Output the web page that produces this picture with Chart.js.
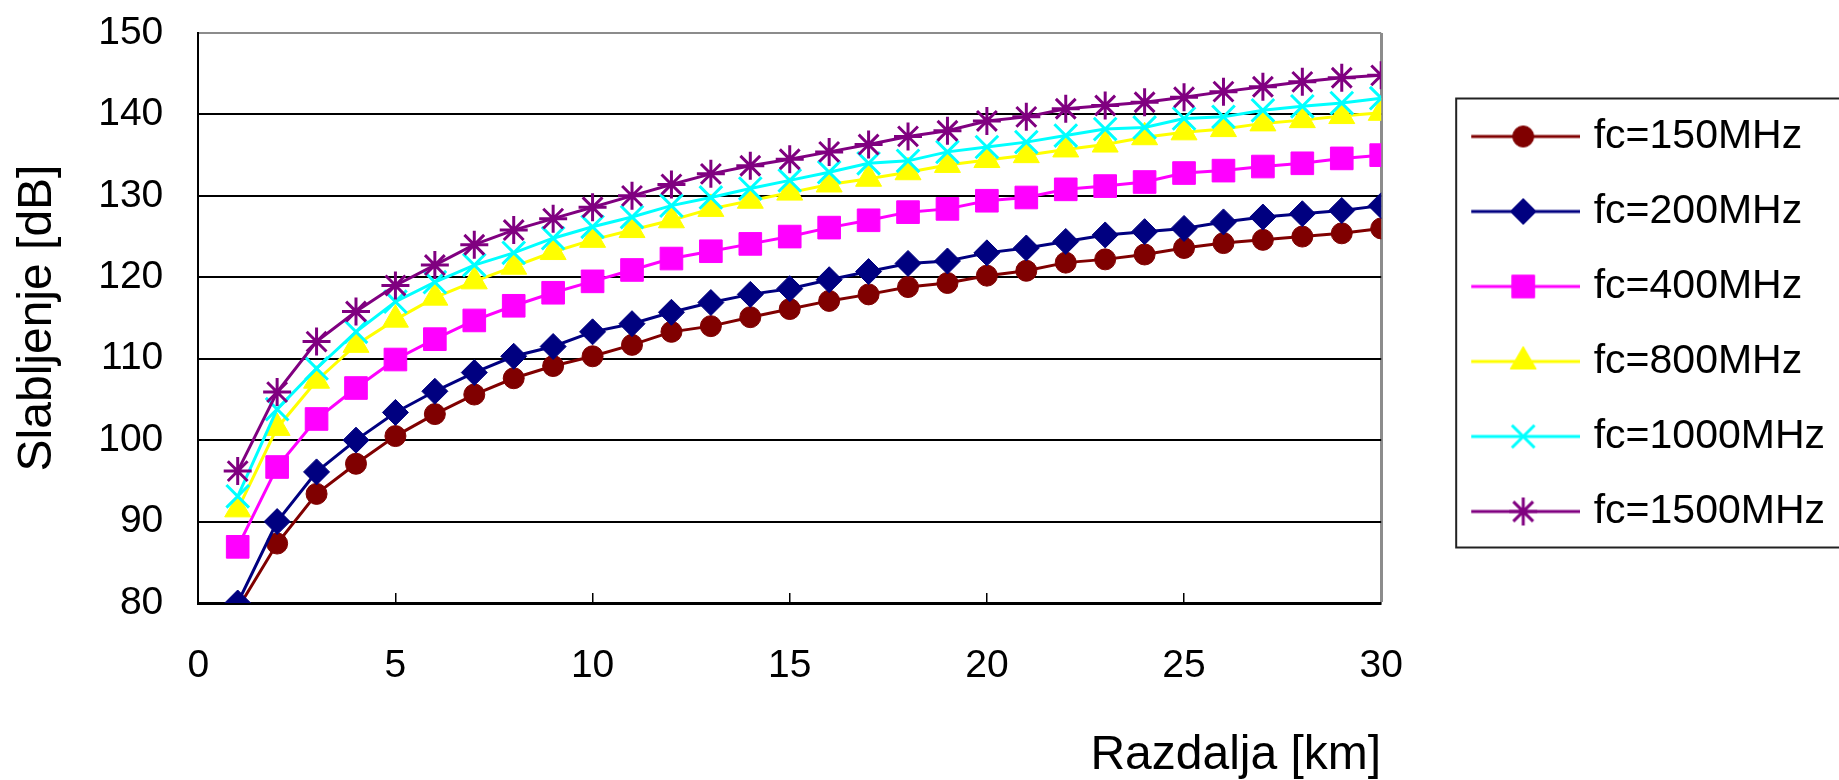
<!DOCTYPE html>
<html lang="sl">
<head>
  <meta charset="UTF-8" />
  <title>Slabljenje v odvisnosti od razdalje</title>
  <script src="https://cdn.jsdelivr.net/npm/chart.js"></script>
  <style>
    html, body {
      margin: 0;
      padding: 0;
      background: #fff;
    }
    canvas {
      display: block;
    }
  </style>
</head>
<body>
  <canvas id="graf" width="1839" height="780"></canvas>

  <script>
    // razdalja [km]
    const razdalja = [1, 2, 3, 4, 5, 6, 7, 8, 9, 10, 11, 12, 13, 14, 15,
                      16, 17, 18, 19, 20, 21, 22, 23, 24, 25, 26, 27, 28, 29, 30];
    const oznake = ["fc=150MHz", "fc=200MHz", "fc=400MHz", "fc=800MHz", "fc=1000MHz", "fc=1500MHz"];
    const xTicks = [0, 5, 10, 15, 20, 25, 30];
    const yTicks = [80, 90, 100, 110, 120, 130, 140, 150];

    // slabljenje [dB], odčitano s slike
    const fc150 = [79.3, 87.3, 93.4, 97.1, 100.5, 103.2, 105.6, 107.6, 109.1, 110.3,
                   111.7, 113.3, 114.0, 115.1, 116.1, 117.1, 117.9, 118.8, 119.3, 120.2,
                   120.8, 121.8, 122.2, 122.8, 123.6, 124.2, 124.6, 125.0, 125.4, 126.0];
    const fc200 = [80.0, 90.0, 96.1, 100.0, 103.4, 106.0, 108.3, 110.3, 111.5, 113.3,
                   114.3, 115.7, 116.9, 117.9, 118.6, 119.7, 120.7, 121.7, 122.0, 123.0,
                   123.6, 124.4, 125.2, 125.6, 126.0, 126.8, 127.4, 127.8, 128.2, 128.8];
    const fc400 = [86.9, 96.7, 102.6, 106.4, 109.9, 112.4, 114.7, 116.5, 118.1, 119.5,
                   120.9, 122.3, 123.2, 124.1, 125.0, 126.1, 127.0, 128.0, 128.4, 129.4,
                   129.8, 130.8, 131.2, 131.7, 132.8, 133.1, 133.6, 134.0, 134.6, 135.0];
    const fc800 = [91.5, 101.5, 107.3, 111.7, 114.8, 117.5, 119.5, 121.3, 123.1, 124.6,
                   125.8, 127.0, 128.4, 129.4, 130.4, 131.4, 132.1, 132.9, 133.8, 134.4,
                   135.0, 135.7, 136.3, 137.2, 137.8, 138.2, 138.9, 139.3, 139.8, 140.2];
    const fc1000 = [93.1, 103.8, 108.8, 113.3, 117.0, 119.4, 121.5, 123.0, 124.8, 126.2,
                    127.4, 128.8, 129.8, 130.9, 131.9, 132.9, 134.0, 134.3, 135.4, 136.0,
                    136.6, 137.4, 138.2, 138.4, 139.5, 139.7, 140.5, 141.0, 141.4, 142.0];
    const fc1500 = [96.2, 105.9, 112.1, 115.8, 119.0, 121.5, 124.0, 125.8, 127.2, 128.6,
                    130.0, 131.4, 132.7, 133.7, 134.5, 135.4, 136.3, 137.3, 138.0, 139.2,
                    139.7, 140.7, 141.1, 141.5, 142.1, 142.8, 143.4, 144.0, 144.5, 144.8];

    const serije = [fc150, fc200, fc400, fc800, fc1000, fc1500];

    const slogi = [
      { barva: "#800000", oblika: "circle",   r: 10.5, debelina: 1 },
      { barva: "#000080", oblika: "rectRot",  r: 13,   debelina: 1 },
      { barva: "#FF00FF", oblika: "rect",     r: 16,   debelina: 1 },
      { barva: "#FFFF00", oblika: "triangle", r: 15,   debelina: 1 },
      { barva: "#00FFFF", oblika: "crossRot", r: 16,   debelina: 3 },
      { barva: "#800080", oblika: "star",     r: 14,   debelina: 3 }
    ];

    Chart.defaults.font.family = "'Liberation Sans', Arial, sans-serif";
    Chart.defaults.color = "#000";

    // sličica za legendo: črta z oznako na sredini
    function slikaLegende(s) {
      const c = document.createElement("canvas");
      c.width = 172;
      c.height = 40;
      const g = c.getContext("2d");
      g.strokeStyle = s.barva;
      g.lineWidth = 3;
      g.beginPath();
      g.moveTo(63, 20);
      g.lineTo(172, 20);
      g.stroke();
      g.fillStyle = s.barva;
      g.lineWidth = s.debelina;
      Chart.helpers.drawPoint(g, { pointStyle: s.oblika, radius: s.r, borderWidth: s.debelina, rotation: 0 }, 115, 20);
      return c;
    }

    const okvir = {
      id: "okvir",
      afterDraw(chart) {
        const ctx = chart.ctx;
        const boxes = chart.legend.legendHitBoxes;
        if (!boxes || !boxes.length) return;
        const zadnji = boxes[boxes.length - 1];
        const top = boxes[0].top - 17.5;
        const bottom = zadnji.top + 56.5;
        const left = boxes[0].left + 41;
        ctx.save();
        ctx.strokeStyle = "#222";
        ctx.lineWidth = 2;
        ctx.strokeRect(left, top, chart.width + 5 - left, bottom - top);
        ctx.restore();
      }
    };

    new Chart(document.getElementById("graf"), {
      type: "line",
      data: {
        datasets: serije.map((vrednosti, i) => ({
          label: oznake[i],
          data: razdalja.map((d, j) => ({ x: d, y: vrednosti[j] })),
          borderColor: slogi[i].barva,
          backgroundColor: slogi[i].barva,
          borderWidth: 3,
          tension: 0,
          pointStyle: slogi[i].oblika,
          pointRadius: slogi[i].r,
          pointBorderWidth: slogi[i].debelina,
          pointBackgroundColor: slogi[i].barva,
          pointBorderColor: slogi[i].barva,
          order: serije.length - i
        }))
      },
      options: {
        responsive: false,
        devicePixelRatio: 1,
        animation: false,
        events: [],
        layout: {
          padding: { left: 0, top: 33, right: 4, bottom: 0 }
        },
        plugins: {
          tooltip: { enabled: false },
          legend: {
            position: "right",
            align: "center",
            fullSize: false,
            title: { display: true, text: "", font: { size: 10 }, padding: 0 },
            labels: {
              font: { size: 41 },
              padding: 34,
              usePointStyle: true,
              pointStyleWidth: 158,
              generateLabels: chart => chart.data.datasets.map((ds, i) => ({
                text: ds.label,
                pointStyle: slikaLegende(slogi[i]),
                fillStyle: "rgba(0,0,0,0)",
                strokeStyle: "rgba(0,0,0,0)",
                lineWidth: 0,
                hidden: false,
                datasetIndex: i,
                fontColor: "#000"
              }))
            }
          }
        },
        scales: {
          x: {
            type: "linear",
            min: 0,
            max: 30,
            afterBuildTicks: scale => { scale.ticks = xTicks.map(v => ({ value: v })); },
            ticks: { padding: 50, font: { size: 39 } },
            grid: {
              drawOnChartArea: true,
              color: c => c.tick && c.tick.value === 30 ? "#8c8c8c" : "rgba(0,0,0,0)",
              lineWidth: c => c.tick && c.tick.value === 30 ? 3 : 1.5,
              tickLength: -10,
              tickColor: c => c.tick && (c.tick.value === 0 || c.tick.value === 30) ? "rgba(0,0,0,0)" : "#000",
              tickWidth: 1.5
            },
            border: { color: "#000", width: 3 },
            title: {
              display: true,
              text: "Razdalja [km]",
              align: "end",
              font: { size: 48 },
              padding: { top: -12.4, bottom: -5 }
            }
          },
          y: {
            min: 80,
            max: 150,
            afterBuildTicks: scale => { scale.ticks = yTicks.map(v => ({ value: v })); },
            afterFit: scale => { scale.paddingTop = 0; scale.paddingBottom = 0; },
            ticks: { padding: 35, font: { size: 39 } },
            grid: {
              drawTicks: false,
              color: c => c.tick && c.tick.value === 150 ? "#8c8c8c" : "#000",
              lineWidth: 2
            },
            border: { color: "#000", width: 2 },
            title: {
              display: true,
              text: "Slabljenje [dB]",
              font: { size: 48 },
              padding: { top: 9, bottom: -3.4 }
            }
          }
        }
      },
      plugins: [okvir]
    });
  </script>
</body>
</html>
